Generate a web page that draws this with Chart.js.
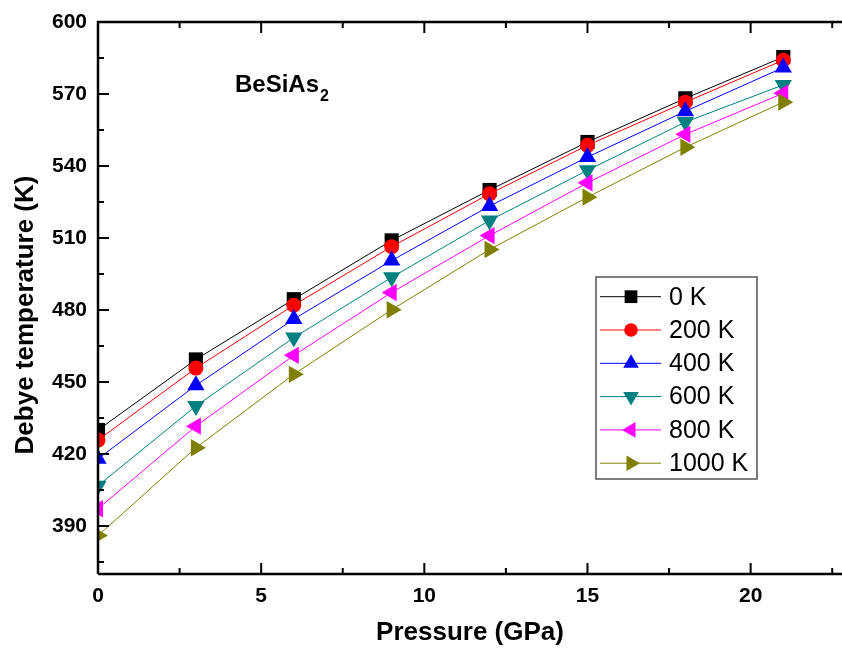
<!DOCTYPE html>
<html>
<head>
<meta charset="utf-8">
<script src="https://cdn.jsdelivr.net/npm/chart.js@4.4.1/dist/chart.umd.min.js"></script>
<style>
  body { margin: 0; background: #fff; }
  canvas { display: block; }
</style>
</head>
<body>
<canvas id="grafico" width="842" height="652"></canvas>
<script>
const pressao = [0, 3, 6, 9, 12, 15, 18, 21];
const t0 = [430, 459.4, 484.5, 509, 530, 550, 568.2, 585.4];
const t200 = [425.8, 455.8, 482, 506.4, 528.4, 548.6, 566.6, 584.1];
const t400 = [418, 448.6, 476.2, 500.6, 523.3, 543.7, 562.8, 581];
const t600 = [406.8, 440, 468.5, 493.6, 517.3, 538.2, 558.3, 573.8];
const t800 = [397.2, 431.6, 461.1, 487.3, 511, 533, 553.2, 570.3];
const t1000 = [386, 422.6, 453.2, 480.1, 505.2, 527, 547.8, 566.6];

const xTicks = [0, 5, 10, 15, 20];
const yTicks = [390, 420, 450, 480, 510, 540, 570, 600];

const fonte = 'Liberation Sans, Arial, sans-serif';

function serie(label, dados, cor, estilo, rot, raio, ordem) {
  return {
    label: label,
    data: pressao.map((p, i) => ({ x: p, y: dados[i] })),
    borderColor: cor,
    backgroundColor: cor,
    borderWidth: 1,
    pointStyle: estilo,
    pointRotation: rot,
    pointRadius: raio,
    pointHoverRadius: raio,
    pointBorderWidth: 0,
    tension: 0,
    clip: 0,
    order: ordem
  };
}

// eixos com ticks para dentro, títulos e legenda
const moldura = {
  id: 'moldura',
  afterDatasetsDraw(chart) {
    const ctx = chart.ctx;
    const a = chart.chartArea;
    const x = chart.scales.x, y = chart.scales.y;
    ctx.save();
    ctx.strokeStyle = '#000';
    ctx.lineWidth = 2.5;
    ctx.beginPath();
    ctx.moveTo(a.left, a.bottom); ctx.lineTo(a.left, a.top); ctx.lineTo(a.right, a.top);
    ctx.moveTo(a.left, a.bottom); ctx.lineTo(a.right, a.bottom);
    ctx.stroke();

    ctx.lineWidth = 2;
    ctx.beginPath();
    for (let v = 0; v <= x.max; v += 2.5) {
      const px = x.getPixelForValue(v);
      const len = v % 5 === 0 ? 11 : 6;
      ctx.moveTo(px, a.bottom); ctx.lineTo(px, a.bottom - len);
      ctx.moveTo(px, a.top); ctx.lineTo(px, a.top + len);
    }
    for (let v = 375; v <= 600; v += 15) {
      const py = y.getPixelForValue(v);
      const len = (v - 390) % 30 === 0 ? 11 : 6;
      ctx.moveTo(a.left, py); ctx.lineTo(a.left + len, py);
    }
    ctx.stroke();

    // títulos dos eixos
    ctx.fillStyle = '#000';
    ctx.font = 'bold 26px ' + fonte;
    ctx.textAlign = 'center';
    ctx.textBaseline = 'middle';
    ctx.fillText('Pressure (GPa)', (a.left + a.right) / 2, 633);
    ctx.save();
    ctx.translate(26, 315);
    ctx.rotate(-Math.PI / 2);
    ctx.fillText('Debye temperature (K)', 0, 0);
    ctx.restore();

    // rótulo do composto
    ctx.textAlign = 'left';
    ctx.textBaseline = 'alphabetic';
    ctx.font = 'bold 24px ' + fonte;
    ctx.fillText('BeSiAs', 235, 92);
    const w = ctx.measureText('BeSiAs').width;
    ctx.font = 'bold 16px ' + fonte;
    ctx.fillText('2', 235 + w + 1, 101);

    // legenda
    ctx.fillStyle = '#fff';
    ctx.fillRect(596, 277, 161, 202);
    ctx.strokeStyle = '#555';
    ctx.lineWidth = 1.5;
    ctx.strokeRect(596, 277, 161, 202);
    chart.data.datasets.forEach((ds, i) => {
      const ly = 296.7 + i * 33.3;
      ctx.strokeStyle = ds.borderColor;
      ctx.lineWidth = 1;
      ctx.beginPath();
      ctx.moveTo(600, ly); ctx.lineTo(661, ly);
      ctx.stroke();
      ctx.fillStyle = ds.backgroundColor;
      Chart.helpers.drawPoint(ctx, {
        pointStyle: ds.pointStyle, rotation: ds.pointRotation,
        radius: ds.pointRadius * 0.9, borderWidth: 0
      }, 631, ly);
      ctx.fillStyle = '#000';
      ctx.font = '25px ' + fonte;
      ctx.textBaseline = 'middle';
      ctx.fillText(ds.label, 669, ly + 1);
    });
    ctx.restore();
  }
};

new Chart(document.getElementById('grafico'), {
  type: 'line',
  data: {
    datasets: [
      serie('0 K', t0, '#000000', 'rect', 0, 10, 5),
      serie('200 K', t200, '#ff0000', 'circle', 0, 7.5, 4),
      serie('400 K', t400, '#0000ff', 'triangle', 0, 10, 3),
      serie('600 K', t600, '#008080', 'triangle', 180, 10, 2),
      serie('800 K', t800, '#ff00ff', 'triangle', 270, 10, 1),
      serie('1000 K', t1000, '#808000', 'triangle', 90, 10, 0)
    ]
  },
  options: {
    responsive: false,
    animation: false,
    events: [],
    layout: { padding: { top: 22, right: 0, left: 0, bottom: 0 }, autoPadding: false },
    plugins: { legend: { display: false }, tooltip: { enabled: false } },
    scales: {
      x: {
        type: 'linear',
        min: 0,
        max: 22.8,
        grid: { display: false, drawTicks: false },
        border: { display: false },
        afterBuildTicks: s => { s.ticks = xTicks.map(v => ({ value: v })); },
        afterFit: s => { s.height = 78; s.paddingRight = 0; s.paddingLeft = 0; },
        ticks: { color: '#000', padding: 10, font: { family: fonte, size: 21, weight: 'bold' } }
      },
      y: {
        min: 370,
        max: 600,
        grid: { display: false, drawTicks: false },
        border: { display: false },
        afterBuildTicks: s => { s.ticks = yTicks.map(v => ({ value: v })); },
        afterFit: s => { s.width = 98; s.paddingTop = 0; s.paddingBottom = 0; },
        ticks: { color: '#000', padding: 11, font: { family: fonte, size: 21, weight: 'bold' } }
      }
    }
  },
  plugins: [moldura]
});
</script>
</body>
</html>
